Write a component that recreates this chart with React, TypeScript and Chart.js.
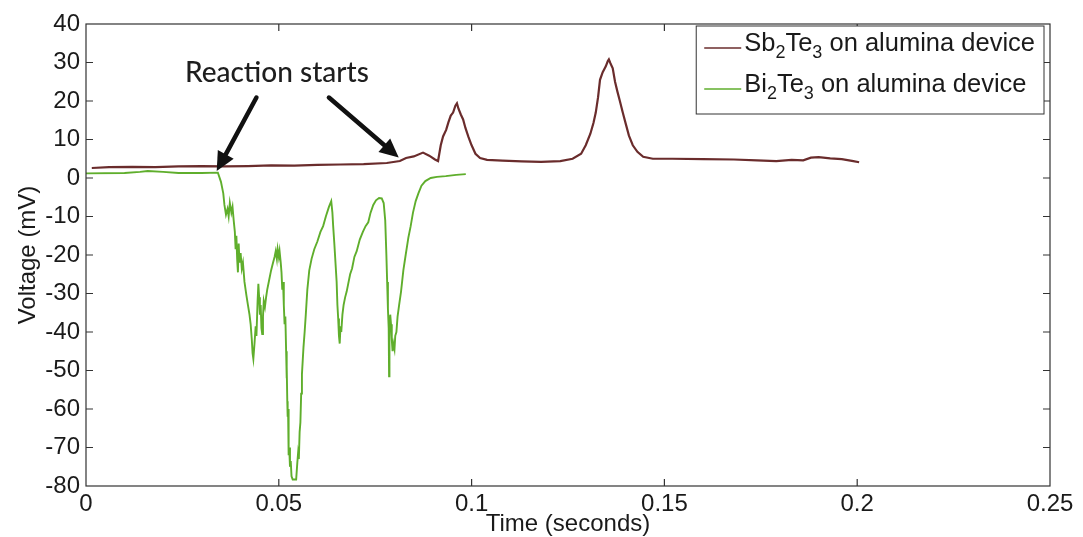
import React, { useEffect, useRef } from "react";
import { Chart, registerables } from "chart.js";
Chart.register(...registerables);

// ---------- data ----------
const xTickLabels = ["0", "0.05", "0.1", "0.15", "0.2", "0.25"];
const xTitle = "Time (seconds)";
const yTitle = "Voltage (mV)";
const sbLabel = "Sb₂Te₃ on alumina device";
const biLabel = "Bi₂Te₃ on alumina device";

const sbTime = [
  0.0015, 0.006, 0.012, 0.018, 0.024, 0.03, 0.036, 0.042, 0.048, 0.054, 0.06, 0.066, 0.072, 0.078,
  0.0814, 0.083, 0.085, 0.0874, 0.089, 0.0905, 0.0913, 0.092, 0.0926, 0.0934, 0.094, 0.0946, 0.0952,
  0.0958, 0.0962, 0.0966, 0.0972, 0.0978, 0.0984, 0.0992, 0.1, 0.101, 0.1022, 0.104, 0.108, 0.113,
  0.118, 0.123, 0.1262, 0.1284, 0.1296, 0.1308, 0.1316, 0.1322, 0.1328, 0.1333, 0.134, 0.1348,
  0.1353, 0.1356, 0.136, 0.1366, 0.1372, 0.1378, 0.1385, 0.1392, 0.14, 0.1408, 0.1418, 0.143,
  0.1445, 0.147, 0.152, 0.16, 0.168, 0.174, 0.179, 0.183, 0.186, 0.188, 0.19, 0.193, 0.196, 0.199,
  0.2005,
];
const sbVolt = [
  2.6, 2.8, 2.9, 2.8, 3.0, 3.1, 3.0, 3.1, 3.3, 3.2, 3.4, 3.5, 3.6, 3.9,
  4.4, 5.2, 5.6, 6.6, 5.8, 4.8, 4.4, 8.5, 10.8, 12.5, 14.5, 16.2, 17.0,
  18.8, 19.4, 18.0, 16.5, 15.2, 13.0, 10.6, 8.5, 6.3, 5.2, 4.7, 4.5, 4.3,
  4.2, 4.4, 5.0, 6.3, 8.5, 11.5, 14.3, 17.0, 21.0, 25.5, 27.5, 29.0,
  30.3, 30.8, 29.8, 28.5, 25.0, 22.5, 19.8, 17.0, 14.0, 11.0, 8.5, 6.8,
  5.5, 5.0, 5.0, 4.9, 4.8, 4.6, 4.4, 4.7, 4.6, 5.3, 5.4, 5.1, 4.9, 4.4,
  4.1,
];

const biTime = [
  0.0, 0.01, 0.014, 0.016, 0.02, 0.024, 0.03, 0.0342, 0.035, 0.0356, 0.0359, 0.0363, 0.0367, 0.037,
  0.0373, 0.0377, 0.038, 0.0383, 0.0386, 0.0388, 0.039, 0.0392, 0.0394, 0.0396, 0.0398, 0.0401,
  0.0404, 0.0407, 0.0411, 0.0416, 0.042, 0.0424, 0.0427, 0.043, 0.0432, 0.0434, 0.0437, 0.044,
  0.0442, 0.0445, 0.0447, 0.0449, 0.0451, 0.0453, 0.0455, 0.0457, 0.0459, 0.0461, 0.0464, 0.0467,
  0.047, 0.0475, 0.048, 0.0485, 0.0489, 0.0492, 0.0495, 0.0497, 0.05, 0.0502, 0.0505, 0.0507,
  0.0509, 0.0511, 0.0513, 0.0515, 0.0517, 0.0519, 0.052, 0.0521, 0.0522, 0.0523, 0.0524, 0.0525,
  0.0526, 0.0527, 0.0529, 0.0531, 0.0533, 0.0536, 0.054, 0.0545, 0.0548, 0.055, 0.0552, 0.0554,
  0.0556, 0.0558, 0.056, 0.0562, 0.0564, 0.0567, 0.057, 0.0574, 0.0579, 0.0585, 0.0592, 0.06,
  0.0608, 0.0615, 0.0622, 0.063, 0.0636, 0.0639, 0.0641, 0.0644, 0.0647, 0.065, 0.0652, 0.0654,
  0.0656, 0.0658, 0.066, 0.0662, 0.0665, 0.0668, 0.0672, 0.0676, 0.068, 0.0685, 0.069, 0.0696,
  0.0702, 0.071, 0.0718, 0.0725, 0.0732, 0.0738, 0.0745, 0.0752, 0.076, 0.0767, 0.0772, 0.0776,
  0.0779, 0.0781, 0.0783, 0.0785, 0.0786, 0.0787, 0.0789, 0.0791, 0.0793, 0.0795, 0.0797, 0.08,
  0.0802, 0.0805, 0.0808, 0.0812, 0.0817, 0.0823, 0.0829, 0.0836, 0.0842, 0.0848, 0.0855, 0.0862,
  0.087, 0.088, 0.0894, 0.091, 0.0933, 0.096, 0.0985,
];
const biVolt = [
  1.2, 1.3, 1.6, 1.8, 1.6, 1.3, 1.3, 1.4, -1.0, -4.0, -7.0, -9.5, -8.0, -10.0,
  -6.5, -9.0, -7.5, -11.0, -14.0, -18.5, -15.0, -21.0, -24.5, -17.0, -22.0, -19.5,
  -23.5, -22.0, -27.0, -30.5, -33.0, -35.5, -38.0, -42.0, -45.5, -47.0, -43.0, -38.5,
  -41.0, -32.0, -27.5, -31.0, -35.5, -33.0, -39.0, -40.5, -36.0, -32.0, -33.5, -31.0,
  -29.0, -26.5, -24.0, -22.0, -20.5, -19.0, -21.0, -18.5, -20.5, -19.0, -22.0, -24.5,
  -29.0, -27.0, -33.0, -38.0, -36.0, -45.0, -52.0, -49.0, -58.0, -62.0, -60.0, -68.0,
  -72.0, -70.0, -75.0, -73.5, -77.5, -78.3, -78.3, -78.3, -74.0, -71.5, -73.0, -66.0,
  -63.5, -56.0, -51.0, -47.5, -44.0, -40.0, -35.5, -29.0, -24.0, -21.0, -18.5, -16.5,
  -14.0, -12.5, -10.0, -7.5, -6.0, -9.0, -12.5, -17.0, -22.0, -27.0, -33.0, -36.5,
  -41.0, -43.0, -38.5, -40.0, -35.5, -33.0, -31.0, -29.5, -27.5, -25.0, -23.5, -20.5,
  -19.0, -16.0, -14.0, -12.5, -11.5, -9.0, -7.0, -5.8, -5.2, -5.3, -6.5, -11.0,
  -20.0, -27.0, -34.0, -39.0, -51.5, -40.0, -35.5, -38.0, -42.0, -45.0, -43.0, -44.5,
  -41.0, -40.0, -36.0, -33.0, -29.5, -24.0, -20.0, -15.5, -12.5, -9.0, -6.0, -4.0,
  -2.0, -0.8, 0.0, 0.3, 0.5, 0.8, 1.0,
];

const annotationText = "Reaction starts";
const annotationAt = [0.0495, 27.4];
const arrowFrom = [
  [0.0442, 20.9],
  [0.063, 20.9],
];
const arrowTo = [
  [0.0339, 1.8],
  [0.0811, 5.3],
];

// ---------- styles ----------
const SB_COLOR = "#6a2c2c";
const BI_COLOR = "#5fae2c";
const AXIS_COLOR = "#333333";
const FONT_FAMILY = '"Liberation Sans", Arial, sans-serif';

const SUB_MAP: Record<string, string> = {
  "₀": "0", "₁": "1", "₂": "2", "₃": "3", "₄": "4", "₅": "5", "₆": "6", "₇": "7", "₈": "8", "₉": "9",
};

function richSegments(text: string) {
  const segs: { t: string; sub: boolean }[] = [];
  for (const ch of text) {
    const sub = ch in SUB_MAP;
    const c = sub ? SUB_MAP[ch] : ch;
    const last = segs[segs.length - 1];
    if (last && last.sub === sub) last.t += c;
    else segs.push({ t: c, sub });
  }
  return segs;
}

const MAIN_FONT = `25.5px ${FONT_FAMILY}`;
const SUB_FONT = `18px ${FONT_FAMILY}`;

function measureRich(ctx: CanvasRenderingContext2D, text: string) {
  let w = 0;
  for (const s of richSegments(text)) {
    ctx.font = s.sub ? SUB_FONT : MAIN_FONT;
    w += ctx.measureText(s.t).width;
  }
  return w;
}

function drawRich(ctx: CanvasRenderingContext2D, text: string, x: number, y: number) {
  let cx = x;
  ctx.textBaseline = "middle";
  ctx.textAlign = "left";
  for (const s of richSegments(text)) {
    ctx.font = s.sub ? SUB_FONT : MAIN_FONT;
    ctx.fillText(s.t, cx, s.sub ? y + 9 : y);
    cx += ctx.measureText(s.t).width;
  }
}

const framePlugin = {
  id: "frameTicks",
  afterDatasetsDraw(chart: any) {
    const { ctx, chartArea: a, scales } = chart;
    ctx.save();
    ctx.strokeStyle = AXIS_COLOR;
    ctx.lineWidth = 1.2;
    ctx.strokeRect(a.left, a.top, a.right - a.left, a.bottom - a.top);
    const L = 7;
    ctx.beginPath();
    scales.x.ticks.forEach((t: any) => {
      const px = scales.x.getPixelForValue(t.value);
      if (px <= a.left + 1 || px >= a.right - 1) return;
      ctx.moveTo(px, a.bottom);
      ctx.lineTo(px, a.bottom - L);
      ctx.moveTo(px, a.top);
      ctx.lineTo(px, a.top + L);
    });
    scales.y.ticks.forEach((t: any) => {
      const py = scales.y.getPixelForValue(t.value);
      if (py <= a.top + 1 || py >= a.bottom - 1) return;
      ctx.moveTo(a.left, py);
      ctx.lineTo(a.left + L, py);
      ctx.moveTo(a.right, py);
      ctx.lineTo(a.right - L, py);
    });
    ctx.stroke();
    ctx.restore();
  },
};

const annotationPlugin = {
  id: "arrowsText",
  afterDatasetsDraw(chart: any) {
    const { ctx, scales } = chart;
    const X = (v: number) => scales.x.getPixelForValue(v);
    const Y = (v: number) => scales.y.getPixelForValue(v);
    ctx.save();
    ctx.fillStyle = "#1e1e1e";
    ctx.font = `500 28px Lato, "Open Sans", sans-serif`;
    ctx.textAlign = "center";
    ctx.textBaseline = "middle";
    ctx.fillText(annotationText, X(annotationAt[0]), Y(annotationAt[1]));
    ctx.strokeStyle = "#111";
    ctx.fillStyle = "#111";
    ctx.lineWidth = 4.5;
    ctx.lineCap = "round";
    for (let i = 0; i < arrowFrom.length; i++) {
      const x1 = X(arrowFrom[i][0]);
      const y1 = Y(arrowFrom[i][1]);
      const x2 = X(arrowTo[i][0]);
      const y2 = Y(arrowTo[i][1]);
      const ang = Math.atan2(y2 - y1, x2 - x1);
      const head = 19;
      const half = 9;
      const bx = x2 - head * Math.cos(ang);
      const by = y2 - head * Math.sin(ang);
      ctx.beginPath();
      ctx.moveTo(x1, y1);
      ctx.lineTo(bx + 2 * Math.cos(ang), by + 2 * Math.sin(ang));
      ctx.stroke();
      ctx.beginPath();
      ctx.moveTo(x2, y2);
      ctx.lineTo(bx + half * Math.sin(ang), by - half * Math.cos(ang));
      ctx.lineTo(bx - half * Math.sin(ang), by + half * Math.cos(ang));
      ctx.closePath();
      ctx.fill();
    }
    ctx.restore();
  },
};

const legendPlugin = {
  id: "richLegend",
  afterDraw(chart: any) {
    const { ctx, chartArea: a } = chart;
    const items = chart.data.datasets.map((d: any) => ({ label: d.label, color: d.borderColor }));
    ctx.save();
    const widths = items.map((it: any) => measureRich(ctx, it.label));
    const maxW = Math.max(...widths);
    const padL = 8, lineLen = 37, gap = 3, padR = 9;
    const boxW = padL + lineLen + gap + maxW + padR;
    const boxH = 88;
    const right = a.right - 6;
    const top = a.top + 2;
    const left = right - boxW;
    ctx.fillStyle = "#ffffff";
    ctx.fillRect(left, top, boxW, boxH);
    ctx.strokeStyle = AXIS_COLOR;
    ctx.lineWidth = 1;
    ctx.strokeRect(left, top, boxW, boxH);
    const rows = [22, 63];
    items.forEach((it: any, i: number) => {
      const y = top + rows[i];
      ctx.strokeStyle = it.color;
      ctx.lineWidth = 1.5;
      ctx.beginPath();
      ctx.moveTo(left + padL, y);
      ctx.lineTo(left + padL + lineLen, y);
      ctx.stroke();
      ctx.fillStyle = "#1a1a1a";
      drawRich(ctx, it.label, left + padL + lineLen + gap, y - 4);
    });
    ctx.restore();
  },
};

export default function App() {
  const canvasRef = useRef<HTMLCanvasElement | null>(null);

  useEffect(() => {
    document.body.style.margin = "0";
    const canvas = canvasRef.current;
    if (!canvas) return;
    const chart = new Chart(canvas, {
      type: "line",
      data: {
        datasets: [
          {
            label: sbLabel,
            data: sbTime.map((t, i) => ({ x: t, y: sbVolt[i] })),
            borderColor: SB_COLOR,
            borderWidth: 2.2,
            pointRadius: 0,
            tension: 0,
            fill: false,
          },
          {
            label: biLabel,
            data: biTime.map((t, i) => ({ x: t, y: biVolt[i] })),
            borderColor: BI_COLOR,
            borderWidth: 1.9,
            pointRadius: 0,
            tension: 0,
            fill: false,
          },
        ],
      },
      options: {
        animation: false,
        responsive: false,
        maintainAspectRatio: false,
        layout: { padding: { top: 24, right: 33, left: 0, bottom: 0 } },
        plugins: {
          legend: { display: false },
          tooltip: { enabled: false },
        },
        scales: {
          x: {
            type: "linear",
            min: 0,
            max: 0.25,
            grid: { display: false, drawTicks: false },
            border: { display: false },
            ticks: {
              stepSize: 0.05,
              padding: 4,
              color: "#1a1a1a",
              font: { family: FONT_FAMILY, size: 24 },
              maxRotation: 0,
              callback: (_v: any, i: number) => xTickLabels[i],
            },
            title: {
              display: true,
              text: xTitle,
              color: "#1a1a1a",
              font: { family: FONT_FAMILY, size: 24 },
              padding: { top: 0, bottom: -2 },
            },
            afterFit: (s: any) => {
              s.height = 51;
            },
          },
          y: {
            type: "linear",
            min: -80,
            max: 40,
            grid: { display: false, drawTicks: false },
            border: { display: false },
            ticks: {
              stepSize: 10,
              padding: 6,
              color: "#1a1a1a",
              font: { family: FONT_FAMILY, size: 24 },
            },
            title: {
              display: true,
              text: yTitle,
              color: "#1a1a1a",
              font: { family: FONT_FAMILY, size: 24 },
              padding: { top: 14, bottom: 0 },
            },
            afterFit: (s: any) => {
              s.width = 86;
            },
          },
        },
      },
      plugins: [framePlugin, annotationPlugin, legendPlugin],
    });
    return () => chart.destroy();
  }, []);

  return (
    <div style={{ width: 1083, height: 537 }}>
      <canvas ref={canvasRef} width={1083} height={537} />
    </div>
  );
}
